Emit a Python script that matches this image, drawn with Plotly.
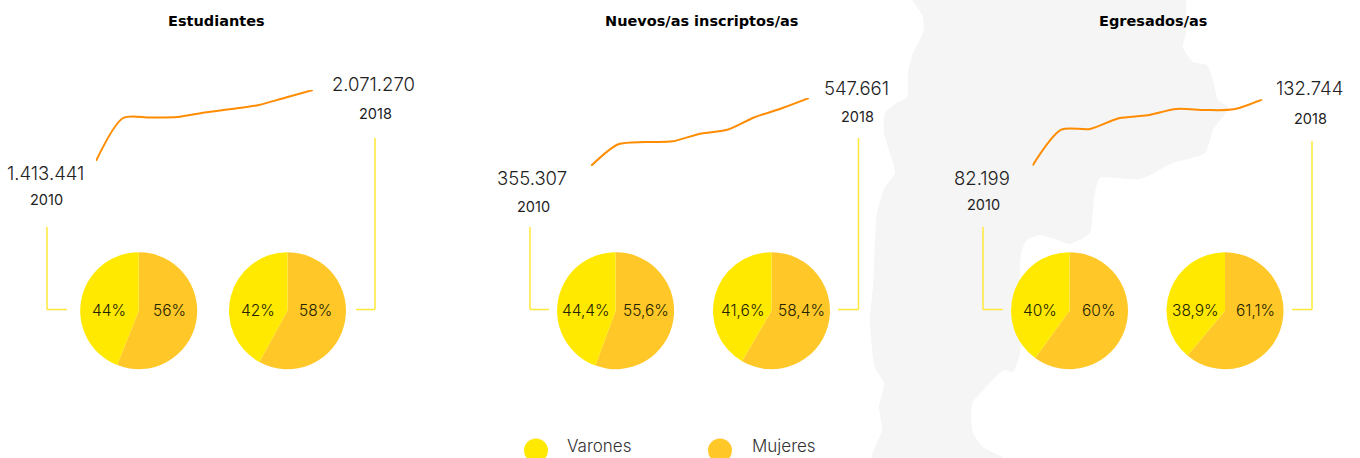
import plotly.graph_objects as go

YEARS = [2010, 2011, 2012, 2013, 2014, 2015, 2016, 2017, 2018]
ESTUDIANTES = [1413441, 1811800, 1816000, 1821000, 1863000, 1895000, 1932000, 2002000, 2071270]
NUEVOS = [355307, 416700, 423200, 425200, 446700, 458000, 493100, 518500, 547661]
EGRESADOS = [82199, 109600, 110139, 118267, 120553, 125379, 124617, 125125, 132744]
TITLES = ["Estudiantes", "Nuevos/as inscriptos/as", "Egresados/as"]
FIRST_LABELS = ["1.413.441", "355.307", "82.199"]
LAST_LABELS = ["2.071.270", "547.661", "132.744"]
SEGMENTS = ["Mujeres", "Varones"]
MUJERES = [56, 58, 55.6, 58.4, 60, 61.1]
VARONES = [44, 42, 44.4, 41.6, 40, 38.9]
MUJERES_TXT = ["56%", "58%", "55,6%", "58,4%", "60%", "61,1%"]
VARONES_TXT = ["44%", "42%", "44,4%", "41,6%", "40%", "38,9%"]
LEGEND = ["Varones", "Mujeres"]

W, H = 1360, 458
YEL, ORA, LINE, GREY, INK = "#FFE900", "#FFC828", "#FF8C00", "#F5F5F5", "#222222"
BODY = "Inter"


def px(x):
    return x / W


def py(y):
    return 1 - y / H


fig = go.Figure()

# Page-wide pixel axis for decoration
ax = dict(visible=False, fixedrange=True)
fig.update_layout(xaxis=dict(domain=[0, 1], range=[0, W], **ax),
                  yaxis=dict(domain=[0, 1], range=[H, 0], **ax))

map_x = [912, 923, 923, 913, 908, 907, 895, 885, 884, 895, 885, 877, 875, 873, 870, 875, 884, 879,
         882, 872, 1007, 983, 973, 971, 973, 1000, 1005, 1013, 1020, 1020, 1022, 1027, 1040, 1057,
         1070, 1090, 1092, 1095, 1100, 1140, 1173, 1205, 1213, 1228, 1218, 1213, 1207, 1193, 1183,
         1186, 1186]
map_y = [0, 17, 33, 53, 73, 97, 104, 113, 133, 173, 187, 213, 240, 287, 320, 368, 383, 407,
         430, 460, 460, 447, 433, 412, 402, 373, 370, 372, 353, 263, 250, 240, 235, 240,
         244, 233, 220, 193, 178, 179, 163, 153, 130, 108, 100, 80, 65, 62, 47,
         33, 0]
fig.add_trace(go.Scatter(x=map_x, y=map_y, mode="lines", fill="toself", fillcolor=GREY,
                         line=dict(color=GREY, width=0, shape="spline", smoothing=0.6),
                         hoverinfo="skip", showlegend=False))

# Legend dots
fig.add_trace(go.Scatter(x=[536, 720], y=[450.5, 450.5], mode="markers", cliponaxis=False,
                         marker=dict(size=24, color=[YEL, ORA], line=dict(width=0)),
                         hoverinfo="skip", showlegend=False))

# Line charts: (x0, x1, y0, y1) in page pixels
frames = [(96, 313, 161, 90), (591, 809, 166, 98), (1032.5, 1262.5, 165.7, 99.3)]
series = [ESTUDIANTES, NUEVOS, EGRESADOS]
for i, (vals, fr) in enumerate(zip(series, frames)):
    n = i + 2
    fig.update_layout({
        f"xaxis{n}": dict(domain=[px(fr[0]), px(fr[1])], range=[YEARS[0], YEARS[-1]], anchor=f"y{n}", **ax),
        f"yaxis{n}": dict(domain=[py(fr[2]), py(fr[3])], range=[vals[0], vals[-1]], anchor=f"x{n}", **ax),
    })
    fig.add_trace(go.Scatter(x=YEARS, y=vals, xaxis=f"x{n}", yaxis=f"y{n}", mode="lines", cliponaxis=False,
                             line=dict(color=LINE, width=2, shape="spline", smoothing=0.8),
                             hovertemplate="%{x}: %{y}<extra></extra>", showlegend=False))

# Pies
pie_cx = [138.7, 287.5, 615.6, 771.5, 1069.5, 1225]
PIE_Y, R = 310.7, 58.5
for cx, m, v in zip(pie_cx, MUJERES, VARONES):
    fig.add_trace(go.Pie(labels=SEGMENTS, values=[m, v], sort=False, direction="clockwise", rotation=0,
                         textinfo="none", hole=0,
                         marker=dict(colors=[ORA, YEL], line=dict(width=0)),
                         domain=dict(x=[px(cx - R), px(cx + R)], y=[py(PIE_Y + R), py(PIE_Y - R)]),
                         showlegend=False))

# Brackets
sty = dict(type="line", xref="x", yref="y", layer="above", line=dict(color="#FFE838", width=1.5))
brackets = [((47, 227), (47, 309.5), (67, 309.5)), ((375, 138), (375, 309.5), (356, 309.5)),
            ((530, 227), (530, 309.5), (549, 309.5)), ((858.5, 138), (858.5, 309.5), (838, 309.5)),
            ((983, 227), (983, 309.5), (1003, 309.5)), ((1312, 141), (1312, 309.5), (1292, 309.5))]
shapes = []
for a, b, c in brackets:
    shapes.append(dict(x0=a[0], y0=a[1], x1=b[0], y1=b[1], **sty))
    shapes.append(dict(x0=b[0], y0=b[1], x1=c[0], y1=c[1], **sty))
fig.update_layout(shapes=shapes)


def note(x, y, text, size, color=INK, weight=400, family=BODY):
    fig.add_annotation(xref="x", yref="y", x=x, y=y, text=text, showarrow=False, xanchor="center",
                       yanchor="middle", font=dict(size=size, color=color, family=family, weight=weight))


for x, t in zip([216.5, 701, 1152.7], TITLES):
    note(x, 20.5, t, 14.5, "#000000", 700, "DejaVu Sans")
for (x, y), t in zip([(45, 172.7), (532, 177.5), (981.7, 177.5)], FIRST_LABELS):
    note(x, y, t, 18.5, "#222222", 300)
for (x, y), t in zip([(373.5, 83.5), (856, 88), (1309, 88)], LAST_LABELS):
    note(x, y, t, 18.5, "#222222", 300)
for (x, y), t in zip([(46.5, 199), (533, 206), (983, 204)], [YEARS[0]] * 3):
    note(x, y, str(t), 14.5)
for (x, y), t in zip([(375, 113), (857.5, 116), (1310, 118)], [YEARS[-1]] * 3):
    note(x, y, str(t), 14.5)
for x, t in zip([109, 258, 586, 742, 1040, 1195.7], VARONES_TXT):
    note(x, 310, t, 15.5, "#222200", 300)
for x, t in zip([169, 315, 646, 801, 1098.7, 1255], MUJERES_TXT):
    note(x, 310, t, 15.5, "#222200", 300)
for x, t in zip([599, 784], LEGEND):
    note(x, 446, t, 17, "#333333", 300)

fig.update_layout(width=W, height=H, autosize=False, margin=dict(l=0, r=0, t=0, b=0),
                  paper_bgcolor="white", plot_bgcolor="rgba(0,0,0,0)", showlegend=False)

fig.write_html("out.html", config=dict(displayModeBar=False),
               post_script="document.body.style.margin='0';document.body.style.overflow='hidden';")
